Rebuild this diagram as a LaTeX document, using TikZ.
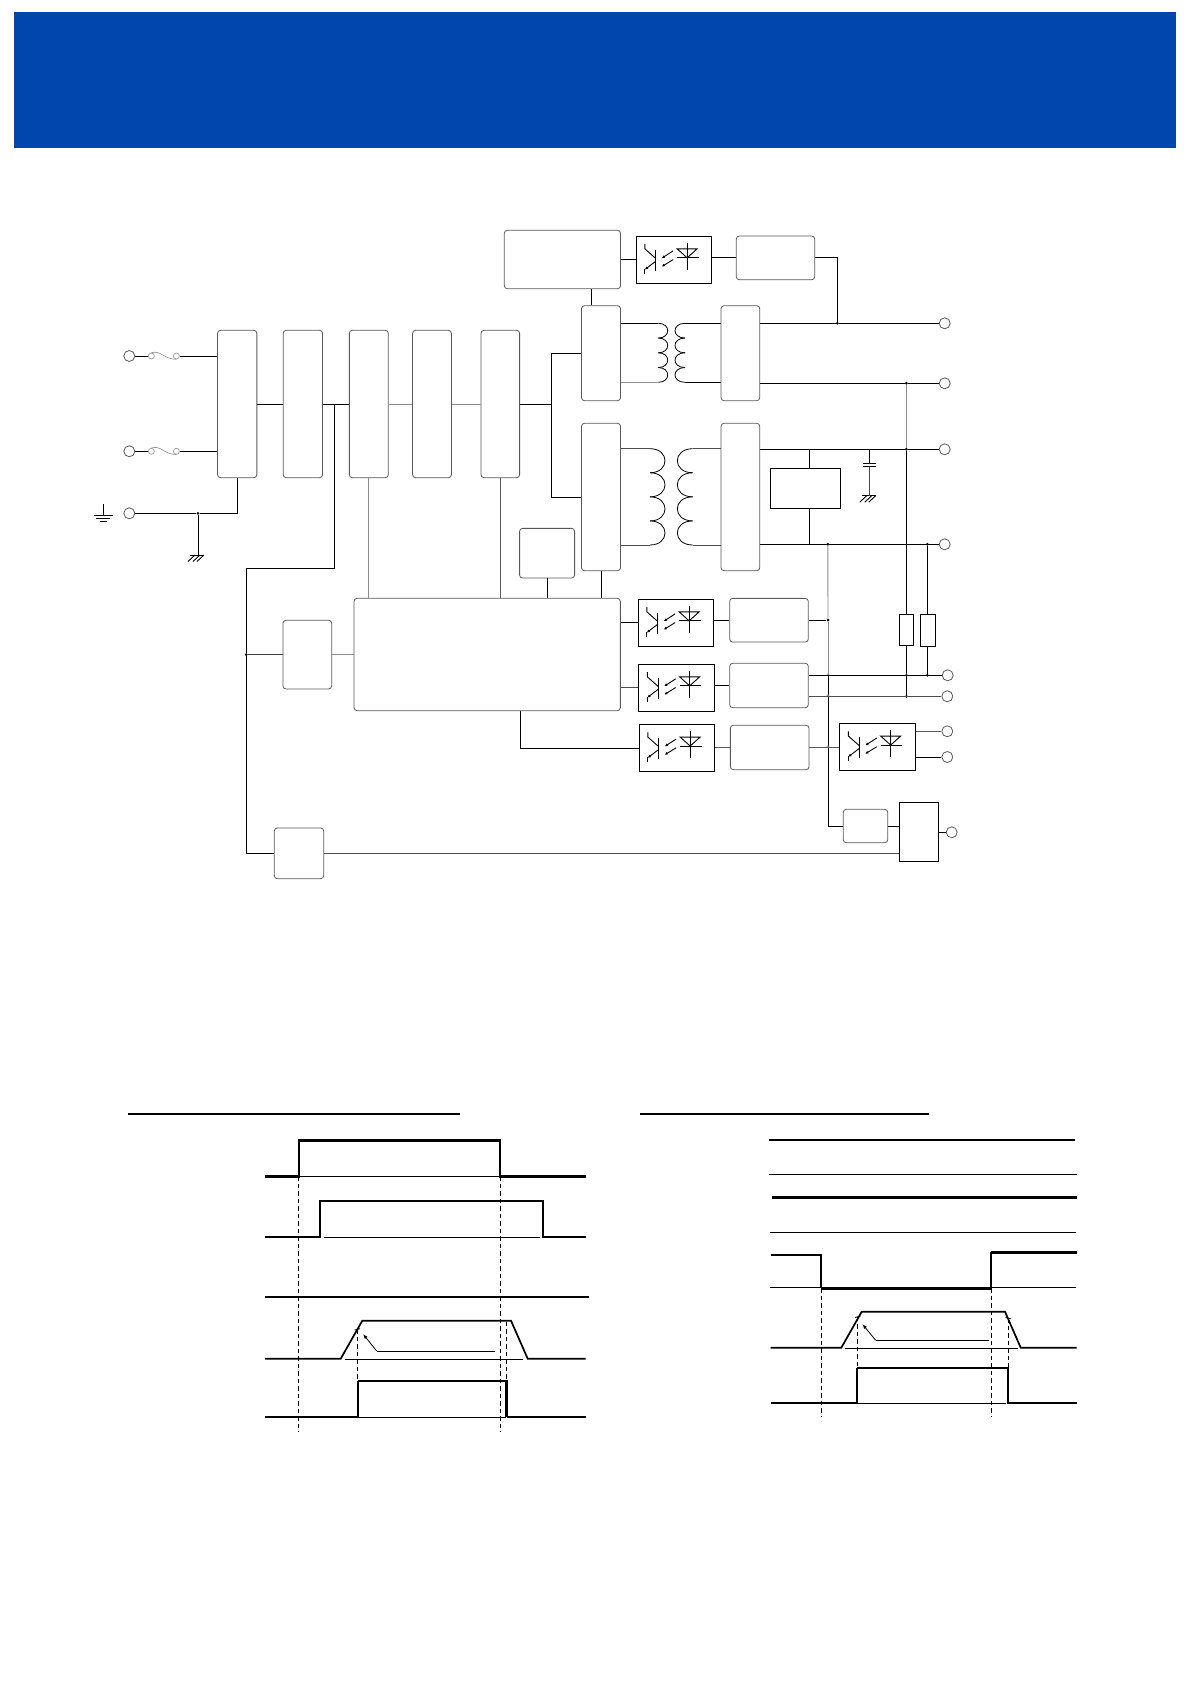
\documentclass[tikz,border=0pt]{standalone}
\usepackage{amsmath,amssymb}
\usetikzlibrary{arrows.meta}
\definecolor{bannerblue}{HTML}{0046AC}
\tikzset{
blockbox/.style={shape=rectangle, draw=black!65, line width=0.8pt, rounded corners=3pt, inner sep=0pt},
plainbox/.style={shape=rectangle, draw=black, line width=0.9pt, inner sep=0pt},
optobox/.style={plainbox, minimum width=75.4, minimum height=47},
terminal/.style={shape=circle, draw=black!65, line width=0.8pt, inner sep=0pt, minimum size=11},
fuseend/.style={shape=circle, draw=black!45, line width=0.6pt, inner sep=0pt, minimum size=6},
junction/.style={shape=circle, fill=black, inner sep=0pt, minimum size=3},
wire/.style={draw=black, line width=0.9pt},
fadewire/.style={draw=black!45, line width=0.9pt},
thinwave/.style={draw=black, line width=0.8pt},
midwave/.style={draw=black, line width=1.7pt, line join=miter},
heavywave/.style={draw=black, line width=2.6pt, line join=miter},
cutline/.style={draw=black, line width=0.8pt, dash pattern=on 4.5pt off 3pt},
}
\newcommand{\coil}[4]{%
  \foreach \turn in {0,1,2,3} {
    \draw[wire, line width=0.8pt] (#1,{#3+\turn*#4}) .. controls ({#1+(#2-#1)/0.75},{#3+\turn*#4}) and ({#1+(#2-#1)/0.75},{#3+(\turn+1)*#4}) .. (#1,{#3+(\turn+1)*#4});
  }}
\newcommand{\optosym}[1]{%
  \begin{scope}[shift={(#1.north west)}]
    \draw[wire] (9,8.3) -- (9,13) -- (20,22.7);
    \draw[wire] (20,14.3) -- (20,35);
    \draw[wire] (9,37.7) -- (9,32.7);
    \draw[wire, -{Latex[length=3pt,width=3pt]}] (20,25.3) -- (9,33.7);
    \draw[wire, -{Latex[length=3pt,width=3pt]}] (37.3,15) -- (26,22.3);
    \draw[wire, -{Latex[length=3pt,width=3pt]}] (37.3,23.7) -- (26,30.7);
    \draw[wire] (41.3,13) -- (61.3,13) -- (51.3,22) -- cycle;
    \draw[wire] (41.3,22) -- (63,22);
    \draw[wire] (51.3,7) -- (51.3,33.7);
  \end{scope}}
\newcommand{\chassis}[1]{%
  \begin{scope}[shift={(#1)}]
    \draw[wire] (-8,0) -- (6,0);
    \foreach \hatch in {-3,2,6} {
      \draw[wire] (\hatch,0) -- (\hatch-7,6.5);
    }
  \end{scope}}
\begin{document}
\begin{tikzpicture}[x=1pt,y=-1pt]
    \useasboundingbox (0,0) rectangle (1192,1685);
    \fill[bannerblue] (14,12) rectangle (1176,148);

    % upper row of blocks
    \node[blockbox, minimum width=39.3, minimum height=147.4] (filt) at (237.2,404) {};
    \node[blockbox, minimum width=39.3, minimum height=147.4] (rect) at (302.9,404) {};
    \node[blockbox, minimum width=38.9, minimum height=147.4] (pfc) at (368.8,404) {};
    \node[blockbox, minimum width=38.9, minimum height=147.4] (bulk) at (432,404) {};
    \node[blockbox, minimum width=38.6, minimum height=147.4] (sense) at (500.3,404) {};
    \node[blockbox, minimum width=116.2, minimum height=58.4] (stbyctl) at (562.4,259.5) {};
    \node[blockbox, minimum width=39.1, minimum height=95] (swA) at (601,353.2) {};
    \node[blockbox, minimum width=39.1, minimum height=147.4] (swB) at (601,497) {};
    \node[blockbox, minimum width=38.7, minimum height=95] (outA) at (740.4,353.2) {};
    \node[blockbox, minimum width=38.7, minimum height=147.4] (outB) at (740.4,497) {};
    \node[blockbox, minimum width=78.4, minimum height=43.7] (fbA) at (775.5,257.9) {};
    \node[blockbox, minimum width=55, minimum height=49.7] (drv) at (547.1,553.2) {};
    \node[blockbox, minimum width=266.3, minimum height=112.4] (ctl) at (487.2,654.5) {};
    \node[blockbox, minimum width=78.6, minimum height=43.7] (fbB) at (769,620.2) {};
    \node[blockbox, minimum width=78.6, minimum height=44.4] (fbC) at (769,685.5) {};
    \node[blockbox, minimum width=78.7, minimum height=44.4] (fbD) at (769.7,747.5) {};
    \node[blockbox, minimum width=44.4, minimum height=33.4] (aux) at (865.5,826) {};
    \node[blockbox, minimum width=48.7, minimum height=68.7] (start) at (307.3,654.6) {};
    \node[blockbox, minimum width=49.4, minimum height=50.7] (prot) at (299,853.3) {};

    \node[plainbox, minimum width=70.4, minimum height=40] (clamp) at (805.5,488.3) {};
    \node[plainbox, minimum width=39.4, minimum height=59.4] (gate) at (919,832) {};
    \node[plainbox, minimum width=14.4, minimum height=31.4] (resA) at (906.5,630) {};
    \node[plainbox, minimum width=15.4, minimum height=32] (resB) at (928,630.3) {};

    \node[optobox] (optoA) at (674,259.8) {};
    \node[optobox] (optoB) at (676,622.8) {};
    \node[optobox] (optoC) at (676.5,687.8) {};
    \node[optobox] (optoD) at (677,748) {};
    \node[optobox] (optoE) at (877.5,747) {};
    \foreach \optoname in {optoA,optoB,optoC,optoD,optoE} {
      \optosym{\optoname}
    }

    % terminals
    \node[terminal] (inL) at (129.3,356) {};
    \node[terminal] (inN) at (129.3,451.3) {};
    \node[terminal] (inG) at (129.3,513.3) {};
    \node[terminal] (vA) at (944.7,323.3) {};
    \node[terminal] (vB) at (944.7,383.3) {};
    \node[terminal] (vC) at (944.7,449.3) {};
    \node[terminal] (vD) at (944.7,544.3) {};
    \node[terminal] (vE) at (947.7,675.3) {};
    \node[terminal] (vF) at (947.3,696.3) {};
    \node[terminal] (vG) at (947.3,731.3) {};
    \node[terminal] (vH) at (947.3,757) {};
    \node[terminal] (vI) at (951.7,832.3) {};

    % fuses
    \node[fuseend] (fuseLa) at (151.4,356) {};
    \node[fuseend] (fuseLb) at (176.4,356) {};
    \node[fuseend] (fuseNa) at (151.4,451.3) {};
    \node[fuseend] (fuseNb) at (176.4,451.3) {};
    \draw[fadewire, line width=0.6pt] (fuseLa.north) .. controls (161,350) and (163,359) .. (fuseLb.south);
    \draw[fadewire, line width=0.6pt] (fuseNa.north) .. controls (161,445) and (163,454) .. (fuseNb.south);
    \draw[wire] (inL) -- (fuseLa);
    \draw[wire] (inN) -- (fuseNa);
    \draw[wire] (fuseLb) -- (filt.west |- fuseLb);
    \draw[wire] (fuseNb) -- (filt.west |- fuseNb);

    % earth and chassis
    \coordinate (earthA) at (103.6,504.3);
    \coordinate (earthB) at (103.6,515);
    \draw[wire] (earthA) -- (earthB);
    \draw[wire] (93.6,515) -- (113,515);
    \draw[wire] (96.4,518.3) -- (110.4,518.3);
    \draw[wire] (100,521) -- (107,521);
    \coordinate (chassisA) at (198,555);
    \coordinate (chassisB) at (869.7,495.7);
    \chassis{chassisA}
    \chassis{chassisB}
    \node[junction] (jG) at (198,513.3) {};
    \draw[wire] (inG) -- (jG) -- (filt.south |- jG) -- (filt.south);
    \draw[wire, line width=0.7pt] (jG) -- (chassisA);

    % main power path
    \node[junction, minimum size=0pt] (jBus) at (551.4,404) {};
    \node[junction, minimum size=0pt] (jStart) at (334.6,404) {};
    \node[junction] (jSide) at (246.3,654.6) {};
    \draw[wire] (filt.east) -- (rect.west);
    \draw[wire] (rect.east) -- (pfc.west);
    \draw[fadewire] (pfc.east) -- (bulk.west);
    \draw[fadewire] (bulk.east) -- (sense.west);
    \draw[wire] (sense.east) -- (jBus);
    \draw[wire] (swA.west |- 0,353.3) -| (jBus);
    \draw[wire] (swB.west |- 0,497.3) -| (jBus);
    \draw[wire] (jStart) |- (246.3,568.3) -- (jSide);
    \draw[wire] (jSide) |- (prot.west);
    \draw[black!75, line width=0.9pt] (jSide) -- (start.west);
    \draw[fadewire] (start.east) -- (ctl.west |- start.east);
    \draw[black!70, line width=0.9pt] (prot.east) -- (gate.west |- prot.east);

    \draw[fadewire] (pfc.south) -- (pfc.south |- ctl.north);
    \draw[black!65, line width=0.8pt] (sense.south) -- (sense.south |- ctl.north);
    \draw[wire] (drv.south) -- (drv.south |- ctl.north);
    \draw[wire] (stbyctl.south -| 591.4,0) -- (swA.north -| 591.4,0);
    \draw[wire] (swB.south) -- (swB.south |- ctl.north);

    % transformers
    \coordinate (trAa) at (658.3,323.3);
    \coordinate (trAb) at (658.3,382.3);
    \coordinate (trAc) at (685,323.3);
    \coordinate (trAd) at (685,382.3);
    \coordinate (trBa) at (650,448.7);
    \coordinate (trBb) at (650,545);
    \coordinate (trBc) at (692.7,448.7);
    \coordinate (trBd) at (692.7,545);
    \coil{658.3}{667.7}{323.3}{14.75}
    \coil{685}{675}{323.3}{14.75}
    \coil{650}{665}{448.7}{24.075}
    \coil{692.7}{677.3}{448.7}{24.075}
    \draw[wire, line width=0.8pt] (swA.east |- trAa) -- (trAa);
    \draw[fadewire] (swA.east |- trAb) -- (trAb);
    \draw[wire, line width=0.8pt] (trAc) -- (outA.west |- trAc);
    \draw[wire, line width=0.8pt] (trAd) -- (outA.west |- trAd);
    \draw[black!70, line width=0.9pt] (swB.east |- trBa) -- (trBa);
    \draw[black!70, line width=0.9pt] (swB.east |- trBb) -- (trBb);
    \draw[black!70, line width=0.9pt] (trBc) -- (outB.west |- trBc);
    \draw[black!70, line width=0.9pt] (trBd) -- (outB.west |- trBd);

    % isolated feedback at the top
    \node[junction] (jA) at (837.3,323.3) {};
    \draw[wire] (stbyctl.east |- optoA.west) -- (optoA.west);
    \draw[wire] (optoA.east |- fbA.west) -- (fbA.west);
    \draw[wire] (fbA.east) -| (jA);
    \draw[wire] (outA.east |- vA) -- (jA) -- (vA);

    % output rails
    \node[junction] (jB) at (906.3,383.3) {};
    \node[junction] (jC) at (906.3,449.3) {};
    \node[junction, minimum size=0pt] (jCa) at (809.3,449.3) {};
    \node[junction, minimum size=0pt] (jCb) at (869.7,449.3) {};
    \node[junction, minimum size=0pt] (jDa) at (809.3,544.3) {};
    \node[junction] (jDb) at (827.8,544.3) {};
    \node[junction, minimum size=0pt] (jDc) at (906.3,544.3) {};
    \node[junction] (jDd) at (927.3,544.3) {};
    \draw[wire] (outA.east |- vB) -- (jB) -- (vB);
    \draw[wire] (outB.east |- jC) -- (jC) -- (vC);
    \draw[wire] (outB.east |- jDa) -- (vD);
    \draw[fadewire] (jB) -- (jC);
    \draw[wire] (jC) -- (jDc) -- (resA.north -| jDc);
    \draw[wire] (jDd) -- (resB.north -| jDd);
    \draw[wire] (jDa) -- (clamp.south -| jDa);
    \draw[wire] (jCa) -- (clamp.north -| jCa);
    % capacitor
    \draw[wire] (jCb) -- (869.7,463.3);
    \draw[wire] (863,463.3) -- (876,463.3);
    \draw[wire] (863,466.7) -- (876,466.7);
    \draw[black!70, line width=0.9pt] (869.7,466.7) -- (chassisB);

    % feedback blocks
    \node[junction] (jFb) at (828,620.2) {};
    \node[junction] (jRa) at (927.3,675.3) {};
    \node[junction] (jRb) at (906.5,696.3) {};
    \draw[fadewire] (jDb) -- (jFb);
    \draw[fadewire] (jFb) -- (828,675.3);
    \draw[wire] (828,675.3) |- (aux.west);
    \draw[wire] (ctl.east |- optoB.west) -- (optoB.west);
    \draw[wire] (optoB.east |- fbB.west) -- (fbB.west);
    \draw[wire] (fbB.east) -- (jFb);
    \draw[black!70, line width=0.8pt] (ctl.east |- optoC.west) -- (optoC.west);
    \draw[wire] (optoC.east |- fbC.west) -- (fbC.west);
    \draw[wire] (fbC.east |- vE) -- (vE);
    \draw[black!70, line width=0.8pt] (fbC.east |- vF) -- (vF);
    \draw[wire] (resA.south) -- (jRb);
    \draw[wire] (resB.south -| jRa) -- (jRa);
    \draw[wire] (ctl.south -| 520.3,0) |- (optoD.west);
    \draw[black!65, line width=0.8pt] (optoD.east |- fbD.west) -- (fbD.west);
    \draw[black!65, line width=0.8pt] (fbD.east) -- (optoE.west |- fbD.east);
    \draw[black!65, line width=0.8pt] (optoE.east |- vG) -- (vG);
    \draw[wire] (optoE.east |- vH) -- (vH);
    \draw[wire] (aux.east) -- (gate.west |- aux.east);
    \draw[wire] (gate.east |- vI) -- (vI);
    \foreach \hopx/\hopy in {828/675.3, 828/696.3, 828/747.3, 906.4/675.3} {
      \draw[black!50, line width=0.5pt] (\hopx-1.5,\hopy) arc (180:360:1.5);
    }

    % left timing chart
    \draw[midwave] (128.3,1114) -- (460,1114);
    \draw[heavywave] (265,1176.3) -- (299,1176.3) -- (299,1140.3) -- (500,1140.3) -- (500,1176.3) -- (585.7,1176.3);
    \draw[thinwave] (299,1176.3) -- (500,1176.3);
    \draw[midwave] (265,1236.7) -- (320,1236.7) -- (320,1200.7) -- (542.7,1200.7) -- (542.7,1236.7) -- (585.7,1236.7);
    \draw[thinwave] (324,1237.3) -- (540,1237.3);
    \draw[midwave] (265,1297) -- (588.7,1297);
    \draw[midwave] (265,1358.7) -- (340.7,1358.7) -- (362.3,1320.7) -- (511,1320.7) -- (527.7,1358.7) -- (585.7,1358.7);
    \draw[thinwave] (345,1359.3) -- (523.3,1359.3);
    \coordinate (armA) at (376.7,1351);
    \draw[thinwave] (495,1351) -- (armA);
    \draw[thinwave, -{Latex[length=5pt,width=3.5pt]}] (armA) -- (363,1334);
    \draw[thinwave] (354.5,1330) -- (360,1328.7);
    \draw[midwave] (265,1417) -- (358,1417) -- (358,1381);
    \draw[heavywave] (358,1381) -- (506.7,1381) -- (506.7,1417);
    \draw[midwave] (506.7,1417) -- (585.7,1417);
    \draw[thinwave] (358,1417.6) -- (506,1417.6);
    \draw[cutline] (298.7,1176.3) -- (298.7,1431.7);
    \draw[cutline] (500.3,1176.3) -- (500.3,1431.7);
    \draw[cutline] (357.3,1329.3) -- (357.3,1381);
    \draw[cutline] (506.7,1321.7) -- (506.7,1381);

    % right timing chart
    \draw[midwave] (640,1114) -- (929,1114);
    \draw[midwave] (769.3,1140) -- (1075.3,1140);
    \draw[thinwave] (769,1174.3) -- (1076.7,1174.3);
    \draw[heavywave] (771.7,1197.3) -- (1077.3,1197.3);
    \draw[thinwave] (770,1232.3) -- (1076,1232.3);
    \draw[midwave] (770.7,1255) -- (821,1255) -- (821,1288);
    \draw[heavywave] (821,1288.3) -- (990.7,1288.3);
    \draw[midwave] (990.7,1288) -- (990.7,1252.3);
    \draw[heavywave] (990.7,1252.3) -- (1076.7,1252.3);
    \draw[thinwave] (770,1287.3) -- (1076,1287.3);
    \draw[midwave] (770.7,1347.7) -- (841.3,1347.7) -- (861.7,1311.7) -- (1005,1311.7) -- (1020.7,1347.7) -- (1076.7,1347.7);
    \draw[thinwave] (845,1348.3) -- (1018.3,1348.3);
    \coordinate (armB) at (875.7,1340.3);
    \draw[thinwave] (989,1340.3) -- (armB);
    \draw[thinwave, -{Latex[length=5pt,width=3.5pt]}] (armB) -- (862.3,1324);
    \draw[thinwave] (855,1317.5) -- (860.5,1316);
    \draw[thinwave] (1005.5,1317.5) -- (1011,1318.8);
    \draw[midwave] (770.7,1403) -- (857,1403) -- (857,1368);
    \draw[heavywave] (857,1368) -- (1008,1368);
    \draw[midwave] (1008,1368) -- (1008,1403) -- (1076.7,1403);
    \draw[thinwave] (857,1403.5) -- (1006,1403.5);
    \draw[cutline] (821.3,1288) -- (821.3,1416.7);
    \draw[cutline] (991.3,1288) -- (991.3,1416.7);
    \draw[cutline] (857.3,1316.7) -- (857.3,1368);
    \draw[cutline] (1008.3,1318) -- (1008.3,1368);

\end{tikzpicture}
\end{document}
